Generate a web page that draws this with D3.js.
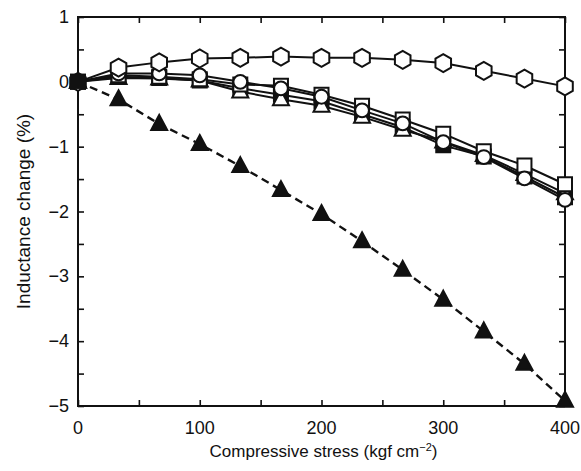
<!DOCTYPE html>
<html lang="en">
<head>
<meta charset="UTF-8">
<title>Inductance change</title>
<style>
  body { margin: 0; background: #fff; }
  text { font-family: "Liberation Sans", Arial, sans-serif; fill: #111; }
</style>
</head>
<body>
<svg></svg>
<script src="https://cdn.jsdelivr.net/npm/d3@7"></script>
<script>
const width = 581, height = 471;
const margin = {top: 17, right: 16, bottom: 65, left: 78};

// stress values (kgf cm^-2)
const stress = [0, 33.3, 66.7, 100, 133.3, 166.7, 200, 233.3, 266.7, 300, 333.3, 366.7, 400];
const hexagonVals = [0, 0.22, 0.3, 0.36, 0.37, 0.39, 0.37, 0.37, 0.34, 0.29, 0.17, 0.05, -0.07];
const squareVals = [0, 0.1, 0.08, 0.04, -0.04, -0.06, -0.2, -0.37, -0.58, -0.8, -1.07, -1.29, -1.58];
const filledSquareVals = [0, 0.08, 0.06, 0.02, -0.1, -0.2, -0.3, -0.5, -0.7, -0.98, -1.15, -1.46, -1.78];
const circleVals = [0, 0.13, 0.13, 0.1, 0.0, -0.1, -0.23, -0.44, -0.64, -0.93, -1.16, -1.49, -1.82];
const triangleVals = [0, 0.06, 0.05, 0.02, -0.15, -0.27, -0.37, -0.54, -0.74, -0.92, -1.13, -1.42, -1.72];
const filledTriVals = [0, -0.27, -0.65, -0.96, -1.3, -1.67, -2.04, -2.46, -2.9, -3.36, -3.85, -4.35, -4.92];

const xTicks = [0, 100, 200, 300, 400];
const yTicks = [1, 0, -1, -2, -3, -4, -5];

const svg = d3.select("svg").attr("width", width).attr("height", height);

const x = d3.scaleLinear().domain([0, 400]).range([margin.left, width - margin.right]);
const y = d3.scaleLinear().domain([-5, 1]).range([height - margin.bottom, margin.top]);

const fmt = d => d < 0 ? "\u2212" + Math.abs(d) : String(d);

// axes, ticks pointing inward
svg.append("g")
    .attr("transform", `translate(0,${y(-5)})`)
    .call(d3.axisTop(x).tickValues(d3.range(0, 401, 50)).tickSize(6).tickFormat(""))
    .call(g => g.select(".domain").remove());
svg.append("g")
    .attr("transform", `translate(0,${y(1)})`)
    .call(d3.axisBottom(x).tickValues(d3.range(0, 401, 50)).tickSize(6).tickFormat(""))
    .call(g => g.select(".domain").remove());
svg.append("g")
    .attr("transform", `translate(${x(0)},0)`)
    .call(d3.axisRight(y).tickValues(d3.range(-5, 1.01, 0.5)).tickSize(6).tickFormat(""))
    .call(g => g.select(".domain").remove());
svg.append("g")
    .attr("transform", `translate(${x(400)},0)`)
    .call(d3.axisLeft(y).tickValues(d3.range(-5, 1.01, 0.5)).tickSize(6).tickFormat(""))
    .call(g => g.select(".domain").remove());
svg.selectAll(".tick line").attr("stroke", "#111").attr("stroke-width", 1.6);

svg.append("rect")
    .attr("x", x(0)).attr("y", y(1))
    .attr("width", x(400) - x(0)).attr("height", y(-5) - y(1))
    .attr("fill", "none").attr("stroke", "#111").attr("stroke-width", 2);

// tick labels
svg.append("g").selectAll("text").data(xTicks).enter().append("text")
    .attr("x", d => x(d)).attr("y", y(-5) + 28)
    .attr("text-anchor", "middle").attr("font-size", 18)
    .text(d => d);
svg.append("g").selectAll("text").data(yTicks).enter().append("text")
    .attr("x", x(0) - 9).attr("y", d => y(d) + 6)
    .attr("text-anchor", "end").attr("font-size", 18)
    .text(fmt);

// axis titles
const xt = svg.append("text")
    .attr("x", (x(0) + x(400)) / 2 + 2).attr("y", 457)
    .attr("text-anchor", "middle").attr("font-size", 17);
xt.append("tspan").text("Compressive stress (kgf cm");
xt.append("tspan").attr("dy", -6).attr("font-size", 11).text("\u22122");
xt.append("tspan").attr("dy", 6).text(")");

svg.append("text")
    .attr("transform", `translate(30,${(y(1) + y(-5)) / 2}) rotate(-90)`)
    .attr("text-anchor", "middle").attr("font-size", 19)
    .text("Inductance change (%)");

// series
const line = d3.line().x(d => x(d[0])).y(d => y(d[1]));
const pair = vals => stress.map((s, i) => [s, vals[i]]);

const hexPath = r => {
  const pts = d3.range(6).map(i => {
    const a = Math.PI / 6 + i * Math.PI / 3;
    return [r * Math.cos(a), r * Math.sin(a)];
  });
  return "M" + pts.map(p => p.join(",")).join("L") + "Z";
};
const shapes = {
  hexagon: hexPath(9),
  square: "M-7,-7H7V7H-7Z",
  circle: d3.symbol(d3.symbolCircle, 150)(),
  triangle: "M0,-9L8,6H-8Z"
};

const series = [
  {vals: filledSquareVals, shape: "square", fill: "#111", dash: null},
  {vals: triangleVals, shape: "triangle", fill: "#fff", dash: null},
  {vals: squareVals, shape: "square", fill: "#fff", dash: null},
  {vals: circleVals, shape: "circle", fill: "#fff", dash: null},
  {vals: hexagonVals, shape: "hexagon", fill: "#fff", dash: null},
  {vals: filledTriVals, shape: "triangle", fill: "#111", dash: "8,5"}
];

series.forEach(s => {
  svg.append("path")
      .datum(pair(s.vals))
      .attr("d", line)
      .attr("fill", "none")
      .attr("stroke", "#111")
      .attr("stroke-width", s.dash ? 2.4 : 2)
      .attr("stroke-dasharray", s.dash);
});

series.forEach(s => {
  svg.append("g").selectAll("path")
      .data(pair(s.vals))
      .enter().append("path")
      .attr("transform", d => `translate(${x(d[0])},${y(d[1])})`)
      .attr("d", shapes[s.shape])
      .attr("fill", s.fill)
      .attr("stroke", "#111")
      .attr("stroke-width", 2);
});

// filled square at the origin on top
svg.append("path")
    .attr("transform", `translate(${x(0)},${y(0)})`)
    .attr("d", shapes.square)
    .attr("fill", "#111");
</script>
</body>
</html>
